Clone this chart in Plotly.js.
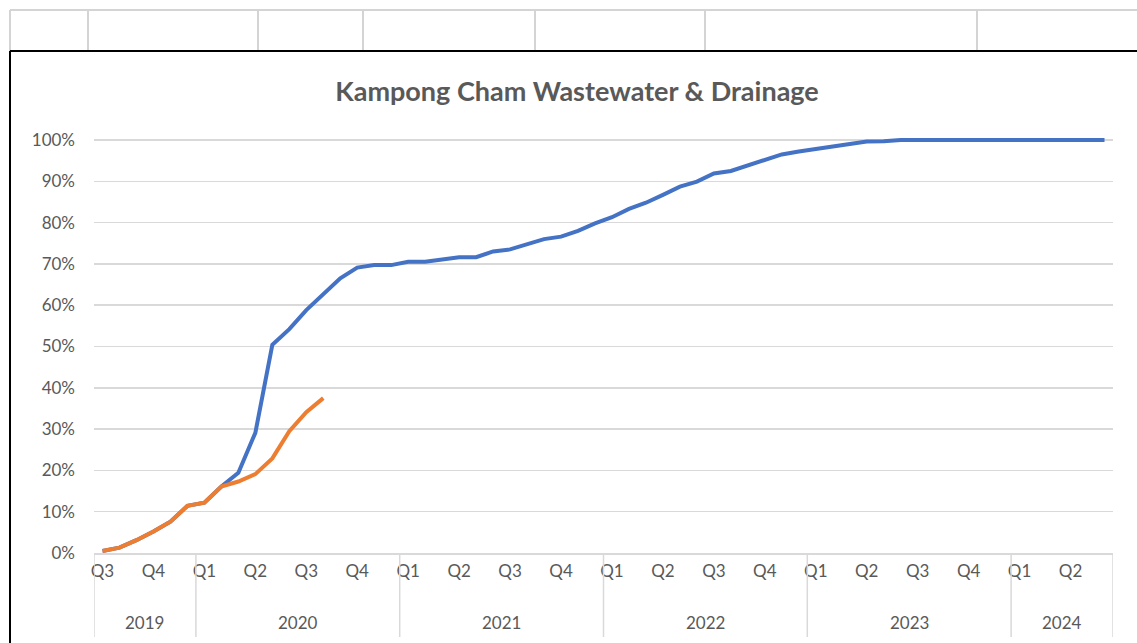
<!DOCTYPE html>
<html>
<head>
<meta charset="utf-8">
<script src="https://cdn.plot.ly/plotly-3.0.1.min.js"></script>
<style>
  html, body { margin: 0; padding: 0; background: #ffffff; }
  #chart { width: 1137px; height: 643px; }
</style>
</head>
<body>
<div id="chart"></div>
<script>
// ---- Data ----
const years = ['2019', '2020', '2021', '2022', '2023', '2024'];
const monthsPerYear = [6, 12, 12, 12, 12, 6];
const quarterLabels = ['Q3', 'Q4',
  'Q1', 'Q2', 'Q3', 'Q4',
  'Q1', 'Q2', 'Q3', 'Q4',
  'Q1', 'Q2', 'Q3', 'Q4',
  'Q1', 'Q2', 'Q3', 'Q4',
  'Q1', 'Q2'];
const seriesNames = ['Planned', 'Actual'];
// monthly cumulative progress (fraction)
const planned = [
  0.005, 0.013, 0.031, 0.052, 0.076, 0.114,
  0.122, 0.161, 0.194, 0.291, 0.504, 0.542, 0.588, 0.625, 0.665, 0.691, 0.697, 0.697,
  0.705, 0.705, 0.711, 0.716, 0.716, 0.730, 0.735, 0.748, 0.760, 0.766, 0.780, 0.798,
  0.813, 0.833, 0.848, 0.867, 0.887, 0.899, 0.919, 0.925, 0.939, 0.953, 0.965, 0.972,
  0.978, 0.984, 0.990, 0.996, 0.997, 1.000, 1.000, 1.000, 1.000, 1.000, 1.000, 1.000,
  1.000, 1.000, 1.000, 1.000, 1.000, 1.000
];
const actual = [
  0.005, 0.013, 0.031, 0.052, 0.076, 0.114,
  0.122, 0.161, 0.173, 0.191, 0.229, 0.295, 0.341, 0.375
];
const yTicks = [0, 0.1, 0.2, 0.3, 0.4, 0.5, 0.6, 0.7, 0.8, 0.9, 1.0];

// ---- Geometry (pixels) ----
const W = 1137, H = 643;
const L = 94, R = 1113, T = 135, B = 553;
const pw = R - L, ph = B - T;
const px = x => (x - L) / pw;
const py = y => (B - y) / ph;

const xIdx = planned.map((_, i) => i);
const xIdxA = actual.map((_, i) => i);
const qTickVals = quarterLabels.map((_, i) => i * 3);

// year boundaries & centers
const bounds = [-0.5];
monthsPerYear.forEach(n => bounds.push(bounds[bounds.length - 1] + n));
const yearCenters = years.map((_, i) => (bounds[i] + bounds[i + 1]) / 2);

const textColor = '#595959';
const gridColor = '#d9d9d9';
const fontFam = 'Lato, "Open Sans", sans-serif';

const shapes = [];
// year dividers below axis
bounds.forEach(b => shapes.push({
  type: 'line', xref: 'x', yref: 'paper', x0: b, x1: b, y0: 0, y1: py(637),
  line: { color: gridColor, width: 1.5 }
}));
// spreadsheet cell lines above chart
shapes.push({ type: 'line', xref: 'paper', yref: 'paper', x0: px(10), x1: px(W + 5), y0: py(10), y1: py(10),
  line: { color: '#d4d4d4', width: 2 } });
[10, 88, 258, 363, 535, 705, 977].forEach(cx => shapes.push({
  type: 'line', xref: 'paper', yref: 'paper', x0: px(cx), x1: px(cx), y0: py(10), y1: py(51),
  line: { color: '#d4d4d4', width: 2 }
}));
// chart border
shapes.push({ type: 'line', xref: 'paper', yref: 'paper', x0: px(10), x1: px(W + 5), y0: py(51), y1: py(51),
  line: { color: '#000000', width: 2 } });
shapes.push({ type: 'line', xref: 'paper', yref: 'paper', x0: px(10), x1: px(10), y0: py(51), y1: py(H + 5),
  line: { color: '#000000', width: 2 } });

const annotations = years.map((yr, i) => ({
  xref: 'x', yref: 'paper', x: yearCenters[i], y: py(622), text: yr,
  showarrow: false, xanchor: 'center', yanchor: 'middle',
  font: { family: fontFam, size: 17, color: textColor }
}));

const traces = [
  { x: xIdx, y: planned, name: seriesNames[0], type: 'scatter', mode: 'lines',
    line: { color: '#4472C4', width: 4 } },
  { x: xIdxA, y: actual, name: seriesNames[1], type: 'scatter', mode: 'lines',
    line: { color: '#ED7D31', width: 4 } }
];

const layout = {
  width: W, height: H,
  margin: { l: L, r: W - R, t: T, b: H - B, pad: 0 },
  paper_bgcolor: '#ffffff', plot_bgcolor: '#ffffff',
  showlegend: false,
  title: {
    text: '<b>Kampong Cham Wastewater & Drainage</b>',
    xref: 'paper', x: px(577), xanchor: 'center',
    yref: 'container', y: 1 - 92 / H, yanchor: 'middle',
    font: { family: fontFam, size: 27, color: textColor }
  },
  xaxis: {
    range: [-0.5, planned.length - 0.5],
    tickmode: 'array', tickvals: qTickVals, ticktext: quarterLabels,
    showgrid: false, zeroline: false,
    showline: true, linecolor: gridColor, linewidth: 1.5,
    ticks: '', ticklabelstandoff: 2,
    tickfont: { family: fontFam, size: 17, color: textColor },
    fixedrange: true
  },
  yaxis: {
    range: [0, 1.012],
    tickmode: 'array', tickvals: yTicks, tickformat: '.0%',
    showgrid: true, gridcolor: gridColor, gridwidth: 1.5,
    zeroline: false, showline: false, ticks: '', ticklabelstandoff: 18,
    tickfont: { family: fontFam, size: 17, color: textColor },
    fixedrange: true
  },
  shapes: shapes,
  annotations: annotations
};

Plotly.newPlot('chart', traces, layout, { displayModeBar: false, staticPlot: true });
</script>
</body>
</html>
